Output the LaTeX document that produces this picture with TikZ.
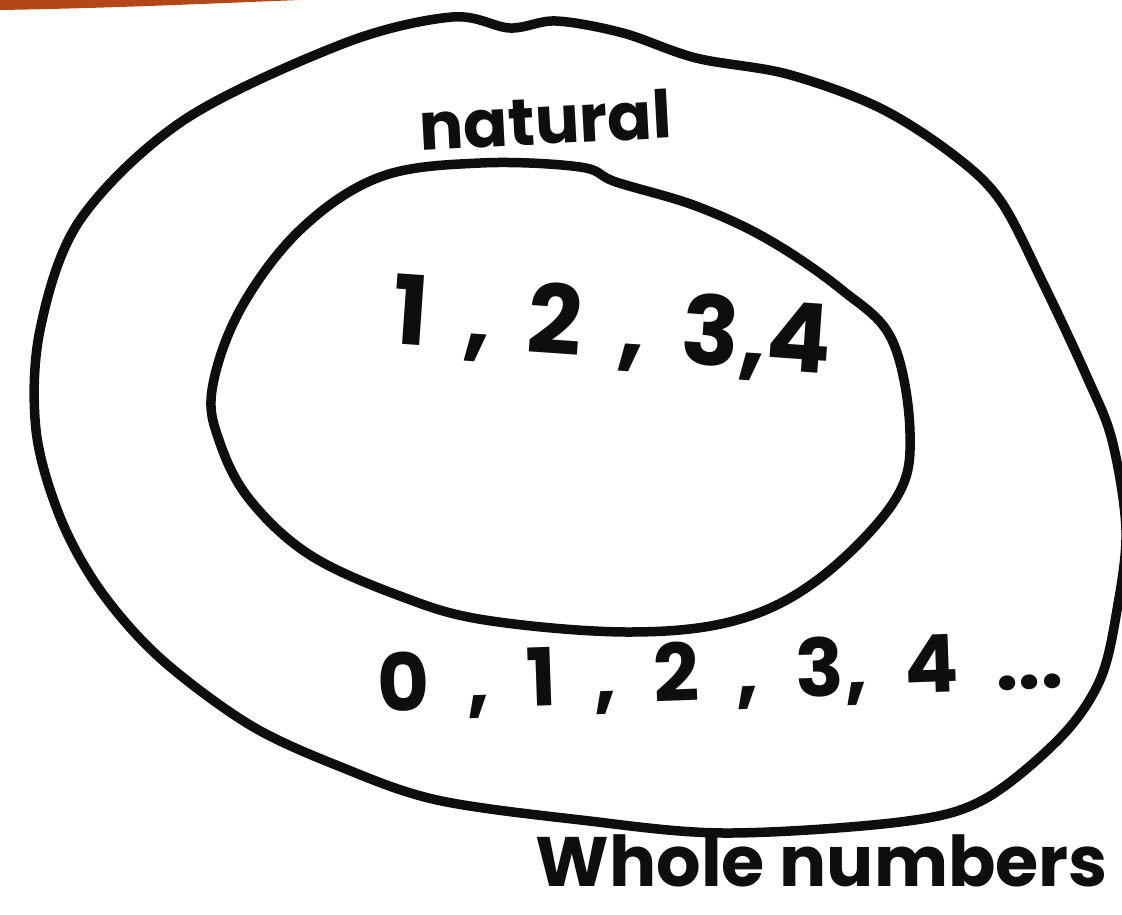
\documentclass[tikz,border=0pt]{standalone}
\usepackage{fontspec}
\setmainfont{Poppins}
\usepackage{tikz}
\usetikzlibrary{positioning}
\definecolor{tink}{HTML}{0E0E0E}
\definecolor{tedge}{HTML}{B4461A}

\begin{document}
\begin{tikzpicture}[x=1pt, y=-1pt,
  pen/.style={draw=tink, line width=9.5pt, line join=round, line cap=round},
  hand/.style={text=tink, inner sep=0pt, anchor=base west, font=\bfseries\fontsize{#1}{#1}\selectfont},
  hand/.default=76]
\useasboundingbox (0,0) rectangle (1122,914);
% photo edge, top left
\fill[tedge] (0,0) -- (0,10) .. controls (120,8) and (220,3) .. (300,0) -- cycle;
% whole numbers
\draw[pen] plot[smooth cycle, tension=0.55] coordinates {
  (452,17) (510,28) (556,21) (623,33) (696,58) (787,74) (878,107) (951,153)
  (1000,200) (1043,283) (1087,377) (1112,440) (1126,530) (1117,610) (1100,680)
  (1060,738) (983,800) (900,822) (724,833) (581,820) (437,800) (341,767)
  (250,725) (160,658) (100,590) (60,517) (36,430) (40,330) (80,220) (184,120) (345,43)};
% natural
\draw[pen] plot[smooth cycle, tension=0.6] coordinates {
  (380,177) (480,163) (580,167) (616,182) (696,206) (769,240) (842,290)
  (892,340) (910,433) (895,500) (820,578) (737,620) (628,632) (485,620)
  (400,596) (310,555) (250,500) (220,443) (212,390) (240,310) (300,230)};
\node[hand=66, rotate=3] (nat) at (420,151) {natural};
\node[hand=96, rotate=-4] (inner) at (390,343) {\spaceskip=36pt\relax 1 , 2 , 3,4};
\node[hand=80, rotate=2] (outer) at (378,712) {\spaceskip=37pt\relax 0 , 1 , 2 , 3, 4 ...};
\node[hand=70, anchor=base east] (whole) at (1108,886) {Whole numbers};
\end{tikzpicture}
\end{document}
